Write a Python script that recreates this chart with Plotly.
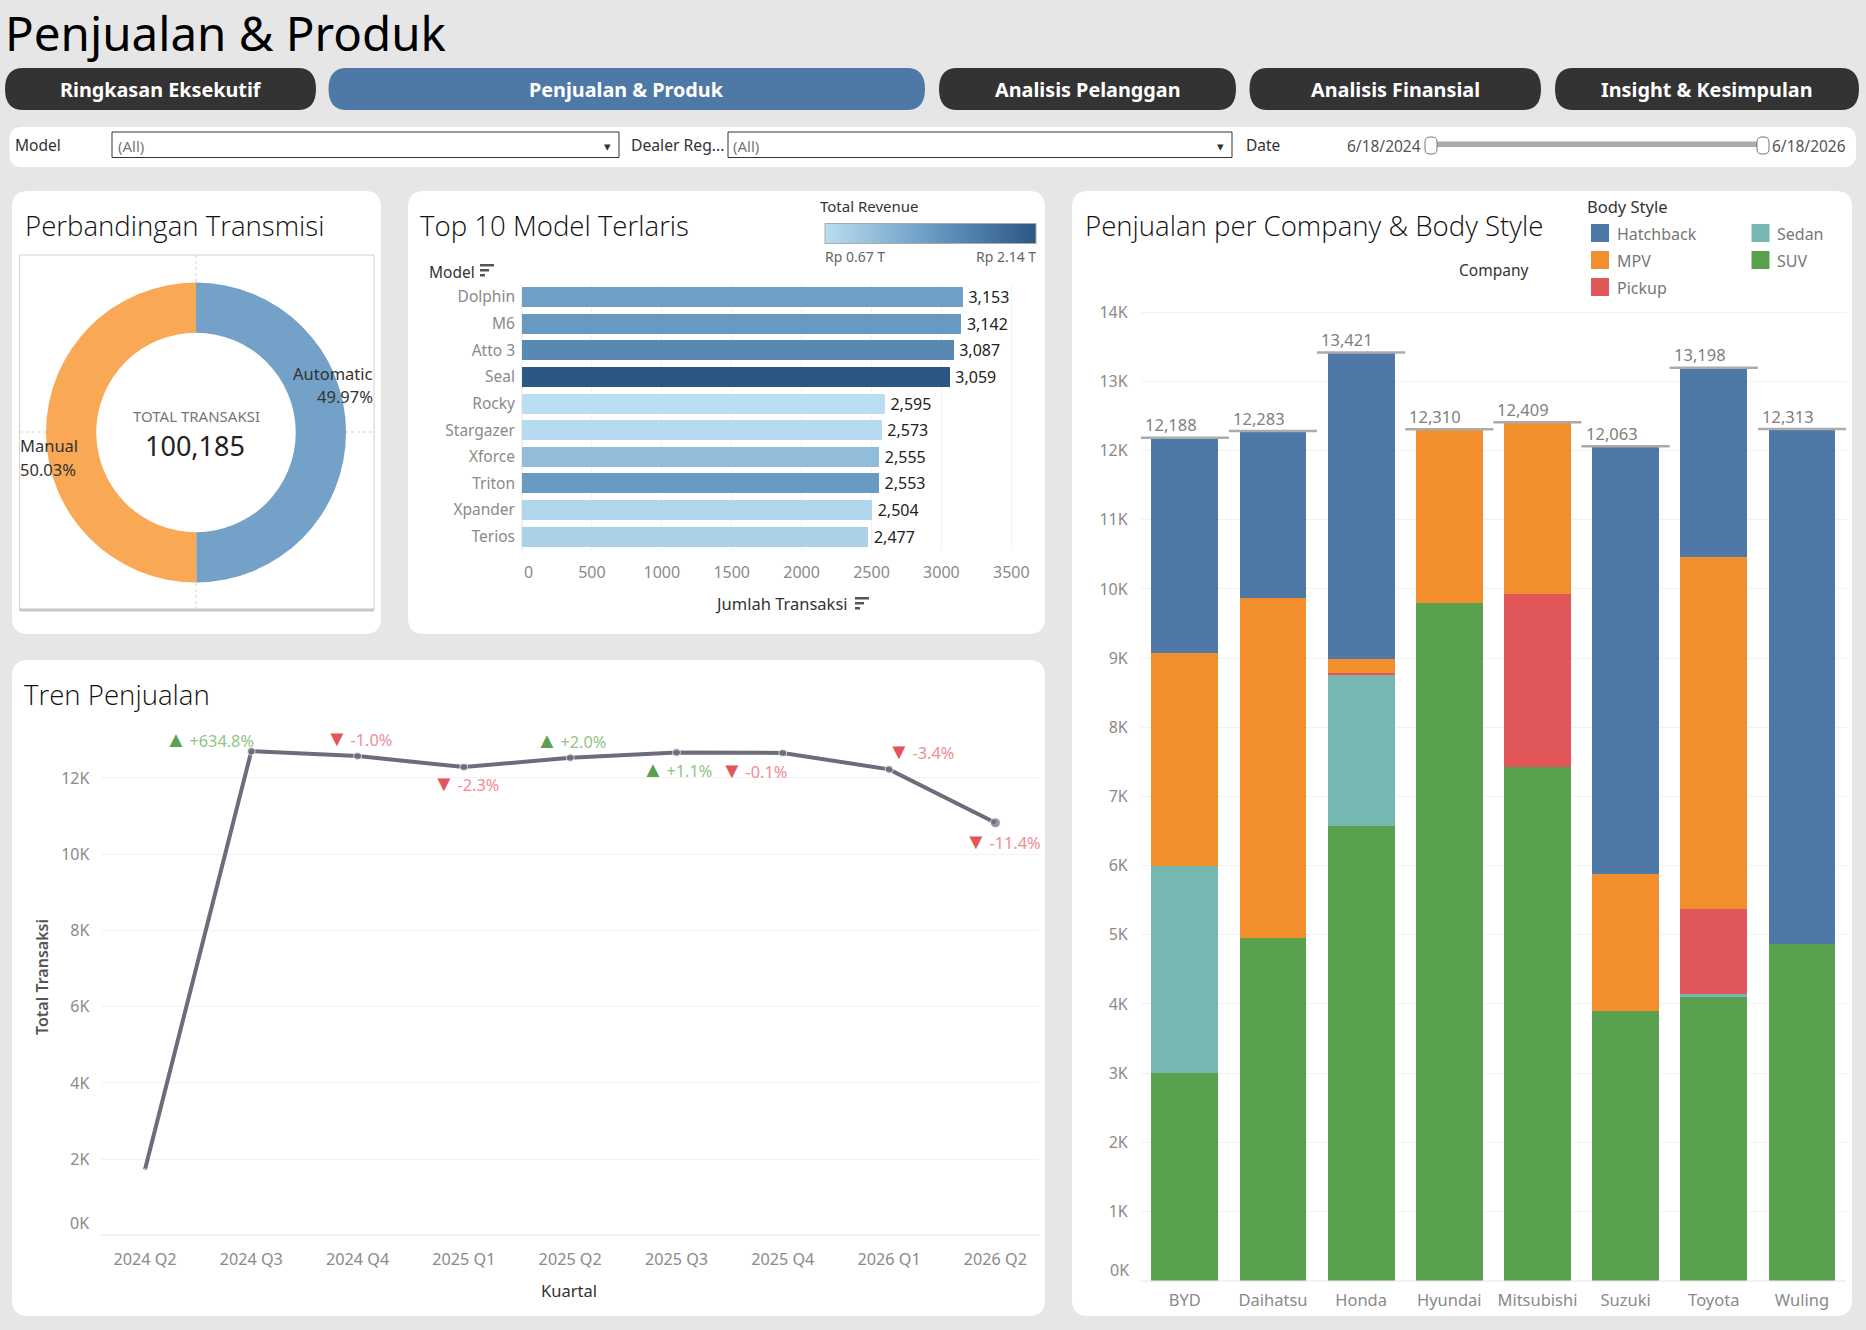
import plotly.graph_objects as go

W, H = 1866, 1330

# ---------- data ----------
transmission = ["Automatic", "Manual"]
transmission_counts = [50062, 50123]
transmission_pct = ["49.97%", "50.03%"]
total_transactions = "100,185"

models = ["Dolphin", "M6", "Atto 3", "Seal", "Rocky", "Stargazer", "Xforce", "Triton", "Xpander", "Terios"]
model_counts = [3153, 3142, 3087, 3059, 2595, 2573, 2555, 2553, 2504, 2477]
model_revenue = [1.36, 1.43, 1.60, 2.14, 0.67, 0.70, 1.04, 1.42, 0.75, 0.80]
model_ticks = [0, 500, 1000, 1500, 2000, 2500, 3000, 3500]

quarters = ["2024 Q2", "2024 Q3", "2024 Q4", "2025 Q1", "2025 Q2", "2025 Q3", "2025 Q4", "2026 Q1", "2026 Q2"]
quarter_sales = [1727, 12700, 12573, 12284, 12530, 12668, 12655, 12225, 10823]
quarter_change = [None, "+634.8%", "-1.0%", "-2.3%", "+2.0%", "+1.1%", "-0.1%", "-3.4%", "-11.4%"]

companies = ["BYD", "Daihatsu", "Honda", "Hyundai", "Mitsubishi", "Suzuki", "Toyota", "Wuling"]
suv = [3000, 4954, 6576, 9794, 7431, 3897, 4099, 4873]
sedan = [3000, 0, 2174, 0, 0, 0, 47, 0]
pickup = [0, 0, 35, 0, 2497, 0, 1226, 0]
mpv = [3070, 4912, 201, 2516, 2481, 1979, 5095, 0]
hatchback = [3118, 2417, 4435, 0, 0, 6187, 2731, 7440]
k_ticks = list(range(0, 15))

# ---------- styling ----------
FONT = "Noto Sans"
TITLE_FONT = "Open Sans"
BG = "#E6E6E6"
GRID = "#F2F2F2"
TICK = "#8A8A8A"
DARK = "#333333"
BLUE, ORANGE, RED, TEAL, GREEN = "#4E79A7", "#F28E2B", "#E15759", "#76B7B2", "#59A14F"


def px(x):
    return x / W


def py(y):
    return 1 - y / H


shapes, notes = [], []


def label(x, y, text, size=15, color=DARK, anchor="left", weight=None, angle=0, family=FONT):
    font = dict(family=family, size=size, color=color)
    if weight:
        font["weight"] = weight
    notes.append(dict(x=px(x), y=py(y), xref="paper", yref="paper", text=text, showarrow=False,
                      xanchor=anchor, yanchor="middle", font=font, textangle=angle, borderpad=0, borderwidth=0))


def rrect(x0, y0, x1, y1, r, fill, line=None, rx=None):
    rx = r if rx is None else rx
    p = (f"M {px(x0+rx)} {py(y0)} L {px(x1-rx)} {py(y0)} Q {px(x1)} {py(y0)} {px(x1)} {py(y0+r)} "
         f"L {px(x1)} {py(y1-r)} Q {px(x1)} {py(y1)} {px(x1-rx)} {py(y1)} "
         f"L {px(x0+rx)} {py(y1)} Q {px(x0)} {py(y1)} {px(x0)} {py(y1-r)} "
         f"L {px(x0)} {py(y0+r)} Q {px(x0)} {py(y0)} {px(x0+rx)} {py(y0)} Z")
    shapes.append(dict(type="path", path=p, xref="paper", yref="paper", fillcolor=fill,
                       line=dict(width=0 if line is None else 1, color=line or fill), layer="below"))


def rect(x0, y0, x1, y1, fill=None, line=None, lw=1):
    shapes.append(dict(type="rect", xref="paper", yref="paper", x0=px(x0), x1=px(x1), y0=py(y1), y1=py(y0),
                       fillcolor=fill or "rgba(0,0,0,0)", line=dict(width=lw if line else 0, color=line or "rgba(0,0,0,0)"),
                       layer="below"))


def hline(x0, x1, y, color, width=1, dash="solid"):
    shapes.append(dict(type="line", xref="paper", yref="paper", x0=px(x0), x1=px(x1), y0=py(y), y1=py(y),
                       line=dict(color=color, width=width, dash=dash), layer="below"))


def vline(x, y0, y1, color, width=1, dash="solid"):
    shapes.append(dict(type="line", xref="paper", yref="paper", x0=px(x), x1=px(x), y0=py(y0), y1=py(y1),
                       line=dict(color=color, width=width, dash=dash), layer="below"))


def sort_icon(x, y):
    for i, w in enumerate([14, 9, 5]):
        rect(x, y + i * 5, x + w, y + i * 5 + 2.5, fill="#555555")


# ---------- header ----------
label(5, 33, "Penjualan &amp; Produk", size=47.5, color="#000000")
buttons = [("Ringkasan Eksekutif", 5, 316, DARK), ("Penjualan &amp; Produk", 328.5, 925, BLUE),
           ("Analisis Pelanggan", 939, 1236, DARK), ("Analisis Finansial", 1249.5, 1541, DARK),
           ("Insight &amp; Kesimpulan", 1555, 1859, DARK)]
for name, x0, x1, col in buttons:
    rrect(x0, 68, x1, 110, 21, col, rx=18)
    label((x0 + x1) / 2, 89.5, name, size=19.8, color="#FFFFFF", anchor="center", weight=700)

# ---------- filter bar ----------
rrect(9.5, 127, 1856, 167, 12, "#FFFFFF")
label(15, 145, "Model", size=15.5, color=DARK)
rect(112, 132, 619, 157.5, fill="#FFFFFF", line=DARK)
label(118, 145.5, "(All)", size=15, color="#777777")
label(607, 146, "▾", size=13, color=DARK, anchor="center")
label(631, 145, "Dealer Reg...", size=15.7, color=DARK)
rect(728, 132, 1232, 157.5, fill="#FFFFFF", line=DARK)
label(733, 145.5, "(All)", size=15, color="#777777")
label(1220, 146, "▾", size=13, color=DARK, anchor="center")
label(1246, 145, "Date", size=15.5, color=DARK)
label(1421, 146, "6/18/2024", size=15.5, color="#555555", anchor="right")
label(1772, 146, "6/18/2026", size=15.5, color="#555555")
rect(1436, 141.5, 1757, 147, fill="#ABABAB")
rrect(1425, 137, 1437, 154, 5, "#FFFFFF", line="#777777")
rrect(1757, 137, 1769, 154, 5, "#FFFFFF", line="#777777")

# ---------- panels ----------
rrect(12, 191, 381, 634, 16, "#FFFFFF")
rrect(408, 191, 1045, 634, 16, "#FFFFFF")
rrect(1072, 191, 1852, 1316, 16, "#FFFFFF")
rrect(12, 660, 1045, 1316, 16, "#FFFFFF")
label(25, 225, "Perbandingan Transmisi", size=27.6, color="#111111", weight=300, family=TITLE_FONT)
label(420, 225, "Top 10 Model Terlaris", size=27.6, color="#111111", weight=300, family=TITLE_FONT)
label(1085, 225, "Penjualan per Company &amp; Body Style", size=27.6, color="#111111", weight=300, family=TITLE_FONT)
label(24, 694, "Tren Penjualan", size=27.6, color="#111111", weight=300, family=TITLE_FONT)

fig = go.Figure()

# ---------- donut ----------
rect(19.6, 255, 374, 610, line="#D0D0D0")
hline(19.6, 374, 610, "#C8C8C8", width=3)
vline(196, 255, 283, "#CFCFCF", dash="dot")
vline(196, 583, 610, "#CFCFCF", dash="dot")
hline(19.6, 47, 432, "#CFCFCF", dash="dot")
hline(345, 374, 432, "#CFCFCF", dash="dot")
fig.add_trace(go.Pie(labels=transmission, values=transmission_counts, hole=0.665, sort=False, direction="clockwise",
                     rotation=0, textinfo="none", marker=dict(colors=["#73A1C7", "#F9A856"], line=dict(width=0)),
                     domain=dict(x=[px(46), px(346)], y=[py(582.5), py(282.5)]), showlegend=False, hoverinfo="label+value"))
label(196, 416, "TOTAL TRANSAKSI", size=15, color="#777777", anchor="center")
label(195, 445, total_transactions, size=27, color="#222222", anchor="center")
label(372.5, 373.5, transmission[0], size=16.5, color="#333333", anchor="right")
label(372.5, 397, transmission_pct[0], size=16.5, color="#333333", anchor="right")
label(19.6, 445, transmission[1], size=16.5, color="#333333")
label(19.6, 469, transmission_pct[1], size=16.5, color="#333333")

# ---------- top 10 bars ----------
blues = [[0, "#B9DDF1"], [0.5, "#6A9BC3"], [1, "#2A5783"]]
fig.add_trace(go.Bar(
    x=model_counts, y=models, orientation="h", xaxis="x", yaxis="y", width=0.75, showlegend=False,
    text=[f"\u2009{v:,}" for v in model_counts], textposition="outside", cliponaxis=False, constraintext="none",
    textfont=dict(family=FONT, size=16, color="#222222"),
    marker=dict(color=model_revenue, colorscale=blues, cmin=min(model_revenue), cmax=max(model_revenue), line=dict(width=0),
                colorbar=dict(orientation="h", x=px(825), xref="paper", xanchor="left", y=py(233.5), yref="paper", yanchor="middle",
                              lenmode="pixels", len=211, thicknessmode="pixels", thickness=20, xpad=0, ypad=0,
                              outlinecolor="#AAAAAA", outlinewidth=1, showticklabels=False, ticks=""))))
label(820, 206, "Total Revenue", size=15, color=DARK)
label(825, 256, f"Rp {min(model_revenue):.2f} T", size=14, color="#666666")
label(1036, 256, f"Rp {max(model_revenue):.2f} T", size=14, color="#666666", anchor="right")
label(429, 272, "Model", size=15.5, color=DARK)
sort_icon(480, 264)
label(781, 604, "Jumlah Transaksi", size=16.5, color=DARK, anchor="center")
sort_icon(855, 597)
label(528, 571.5, str(model_ticks[0]), size=16, color=TICK, anchor="center")

# ---------- trend line ----------
marker_sizes = [2] + [8] * 7 + [10]
fig.add_trace(go.Scatter(x=quarters, y=quarter_sales, mode="lines+markers", xaxis="x2", yaxis="y2", showlegend=False,
                         line=dict(color="#6C6C7C", width=4), marker=dict(color="#6C6C7C", size=marker_sizes), cliponaxis=False))
offsets = [None, (-42, 13), (1, 19), (2, -15), (1, 19), (0, -16), (-29, -16), (32, 19), (8, -17)]
for i, chg in enumerate(quarter_change):
    if chg is None:
        continue
    up = chg.startswith("+")
    sym, scol, tcol = ("▲", "#59A14F", "#8FC389") if up else ("▼", "#E15759", "#EE8C96")
    notes.append(dict(x=i, y=quarter_sales[i], xref="x2", yref="y2", showarrow=False, xanchor="center", yanchor="middle",
                      xshift=offsets[i][0], yshift=offsets[i][1],
                      text=f'<span style="color:{scol};font-size:22px">{sym}</span>\u2009{chg}',
                      font=dict(family=FONT, size=16.3, color=tcol)))
label(569, 1290.5, "Kuartal", size=16.5, color=DARK, anchor="center")
label(42, 977, "Total Transaksi", size=16, color="#555555", anchor="center", angle=-90, weight=600)
label(89, 1223, "0K", size=16, color=TICK, anchor="right")

# ---------- stacked bars ----------
for name, vals, col in [("SUV", suv, GREEN), ("Sedan", sedan, TEAL), ("Pickup", pickup, RED),
                        ("MPV", mpv, ORANGE), ("Hatchback", hatchback, BLUE)]:
    fig.add_trace(go.Bar(x=companies, y=vals, name=name, xaxis="x3", yaxis="y3", width=0.758, showlegend=False,
                         marker=dict(color=col, line=dict(width=0))))
totals = [a + b + c + d + e for a, b, c, d, e in zip(suv, sedan, pickup, mpv, hatchback)]
for i, t in enumerate(totals):
    shapes.append(dict(type="line", xref="x3", yref="y3", x0=i - 0.5, x1=i + 0.5, y0=t, y1=t,
                       line=dict(color="#ABABAB", width=2.5), layer="above"))
    notes.append(dict(x=i, y=t, xref="x3", yref="y3", showarrow=False, xanchor="center", yanchor="middle",
                      xshift=-14, yshift=13, text=f"{t:,}", font=dict(family=FONT, size=16.5, color="#808080")))
label(1493, 270, "Company", size=15.5, color=DARK, anchor="center")
label(1587, 206.5, "Body Style", size=16.5, color=DARK)
for name, col, x, y in [("Hatchback", BLUE, 1591, 233), ("MPV", ORANGE, 1591, 260), ("Pickup", RED, 1591, 287),
                        ("Sedan", TEAL, 1751.5, 233), ("SUV", GREEN, 1751.5, 260)]:
    rect(x, y - 9, x + 18, y + 9, fill=col)
    label(x + 25.5, y + 1, name, size=16, color="#777777")
label(1129, 1270, "0K", size=16, color=TICK, anchor="right")


# ---------- axes ----------
def cat_axis(**kw):
    base = dict(showgrid=False, zeroline=False, showline=False, ticks="", automargin=False, fixedrange=True,
                tickfont=dict(family=FONT, size=16.2, color=TICK))
    base.update(kw)
    return base


def val_axis(**kw):
    base = dict(showgrid=True, gridcolor=GRID, gridwidth=1, zeroline=True, zerolinecolor=GRID, showline=False, ticks="",
                automargin=False, fixedrange=True, tickfont=dict(family=FONT, size=16, color=TICK))
    base.update(kw)
    return base


fig.update_layout(
    width=W, height=H, margin=dict(l=0, r=0, t=0, b=0), autosize=False,
    paper_bgcolor=BG, plot_bgcolor="rgba(0,0,0,0)", barmode="stack",
    font=dict(family=FONT), shapes=shapes, annotations=notes, hovermode="closest",
    # top 10 chart
    xaxis=val_axis(domain=[px(522), px(1038)], range=[0, 516 / 0.1398], tickvals=model_ticks,
                   ticktext=[""] + [str(v) for v in model_ticks[1:]], anchor="y", ticklabelstandoff=11),
    yaxis=cat_axis(domain=[py(550), py(283.7)], categoryorder="array", categoryarray=models, autorange="reversed", anchor="x",
                   ticklabelstandoff=6, tickfont=dict(family=FONT, size=15.5, color=TICK)),
    # trend chart
    xaxis2=cat_axis(domain=[px(101.4), px(1039)], range=[-0.41, 8.41], anchor="y2", categoryorder="array", categoryarray=quarters,
                    ticklabelstandoff=12),
    yaxis2=val_axis(domain=[py(1235.4), py(739.8)], range=[0, 13000], anchor="x2", tickvals=[0, 2000, 4000, 6000, 8000, 10000, 12000],
                    ticktext=["", "2K", "4K", "6K", "8K", "10K", "12K"], ticklabelstandoff=11),
    # stacked chart
    xaxis3=cat_axis(domain=[px(1140.7), px(1846)], range=[-0.5, 7.5], anchor="y3", categoryorder="array", categoryarray=companies,
                    ticklabelstandoff=8, tickfont=dict(family=FONT, size=16.5, color=TICK)),
    yaxis3=val_axis(domain=[py(1280.6), py(281.7)], range=[0, 14443], anchor="x3", tickvals=[k * 1000 for k in k_ticks],
                    ticktext=[""] + [f"{k}K" for k in k_ticks[1:]], ticklabelstandoff=12),
)

fig.write_html("out.html", config=dict(displayModeBar=False),
               post_script="document.body.style.margin='0';document.body.style.overflow='hidden';")
